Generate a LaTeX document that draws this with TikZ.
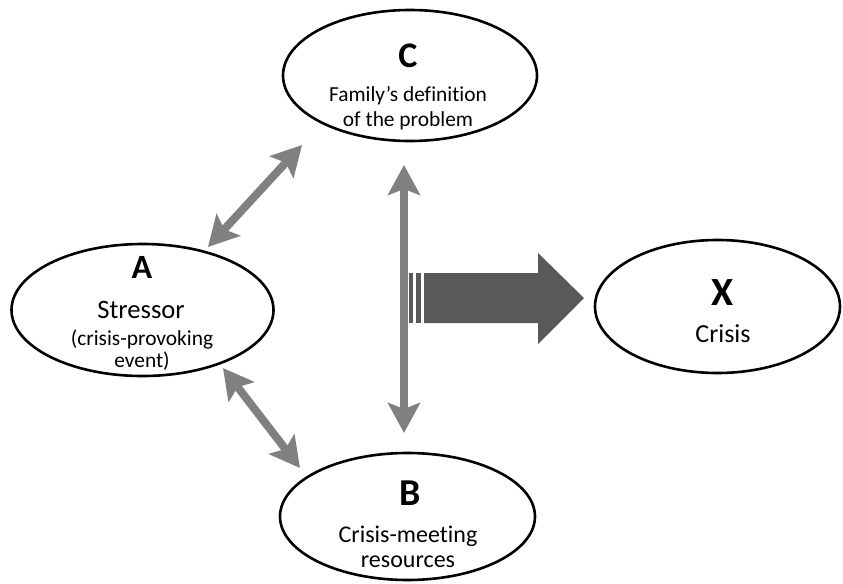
\documentclass[tikz,border=0pt]{standalone}
\usepackage{fontspec}
\setmainfont{Carlito}[Ligatures={TeX,NoCommon}]
\usetikzlibrary{shapes.geometric,arrows.meta}
\definecolor{arrowgray}{HTML}{808080}
\definecolor{blockgray}{HTML}{595959}
\begin{document}
\begin{tikzpicture}[x=0.5pt,y=-0.5pt,
		blob/.style={ellipse,draw,line width=1.3pt,inner sep=0pt},
		txt/.style={anchor=base,inner sep=0pt},
		dbl/.style={draw=arrowgray,line width=4pt,>={Stealth[length=15pt,width=16pt,inset=3pt]},<->}]
			\useasboundingbox (0,0) rectangle (843,584);
			\node[blob,minimum width=127pt,minimum height=65.5pt] (c) at (410,75.5) {};
			\node[blob,minimum width=131pt,minimum height=66pt] (a) at (142.5,310) {};
			\node[blob,minimum width=127.5pt,minimum height=63.5pt] (b) at (407.5,516.5) {};
			\node[blob,minimum width=122.5pt,minimum height=66.5pt] (x) at (717.5,306.5) {};
			\foreach \n\x\y\s\t in {c/408/67/18/C,a/142/278/17/A,b/410/505/19/B,x/723/305/20/X}{
				\node[txt,font=\fontsize{\s}{\s}\selectfont\bfseries] (\n-l) at (\x,\y) {\t};
			}
			\foreach \n\x\y\s\t in {c1/408/101/10.7/Family’s definition,c2/408/126/10.7/of the problem,
				a1/141/318/13.3/Stressor,a2/142/345/10.7/(crisis-provoking,a3/142/367/10.7/event),
				b1/408/542/12/Crisis-meeting,b2/408/567/12/resources,x1/723/342/13/Crisis}{
				\node[txt,font=\fontsize{\s}{\s}\selectfont] (t-\n) at (\x,\y) {\t};
			}
			\coordinate (ac1) at (208,247);
			\coordinate (ac2) at (302,145);
			\coordinate (ab1) at (223,368);
			\coordinate (ab2) at (300,468);
			\coordinate (cb1) at (404,165);
			\coordinate (cb2) at (404,433);
			\draw[dbl] (ac1) -- (ac2);
			\draw[dbl] (ab1) -- (ab2);
			\draw[dbl] (cb1) -- (cb2);
			\fill[blockgray] (424,273) -- (538,273) -- (538,253) -- (584,298) -- (538,344) -- (538,323) -- (424,323) -- cycle;
			\foreach \i\j in {409/413,416/421}{
				\fill[blockgray] (\i,273) rectangle (\j,323);
			}
		\end{tikzpicture}
\end{document}
